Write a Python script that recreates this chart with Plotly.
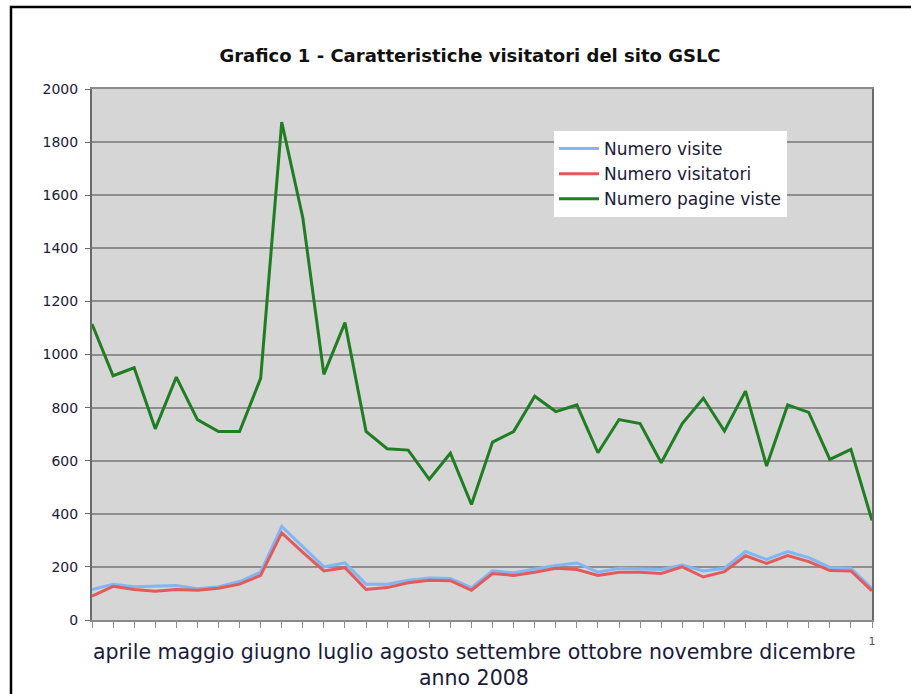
import plotly.graph_objects as go

# Data (38 weekly points, April-December 2008)
settimane = list(range(38))
numero_visite = [115, 135, 125, 127, 130, 118, 125, 145, 180, 352, 275, 200, 215, 135, 135, 150, 158, 156, 122,
                 185, 178, 192, 205, 215, 180, 195, 193, 190, 207, 185, 195, 258, 228, 258, 235, 198, 195, 118]
numero_visitatori = [90, 127, 115, 108, 115, 112, 120, 135, 168, 328, 255, 185, 197, 115, 122, 140, 150, 148, 112,
                     175, 168, 180, 195, 190, 168, 180, 180, 175, 200, 162, 182, 242, 213, 243, 220, 186, 185, 110]
numero_pagine_viste = [1115, 920, 950, 720, 915, 755, 710, 710, 910, 1875, 1515, 925, 1120, 710, 645, 640, 530, 628,
                       435, 670, 710, 843, 785, 810, 630, 755, 740, 592, 740, 835, 712, 862, 580, 810, 782, 605, 643, 375]
tick_text = [""] * 37 + ["1"]
y_ticks = [0, 200, 400, 600, 800, 1000, 1200, 1400, 1600, 1800, 2000]

FONT = "DejaVu Sans"
TXT = "#1a1a3a"

fig = go.Figure()
fig.add_trace(go.Scatter(x=settimane, y=numero_visite, mode="lines", name="Numero visite",
                         line=dict(color="#80b6f4", width=3), legendgroup="a"))
fig.add_trace(go.Scatter(x=settimane, y=numero_visitatori, mode="lines", name="Numero visitatori",
                         line=dict(color="#e25a5a", width=3), legendgroup="b"))
fig.add_trace(go.Scatter(x=settimane, y=numero_pagine_viste, mode="lines", name="Numero pagine viste",
                         line=dict(color="#1f7d22", width=3), legendgroup="c"))

L, R, T, B = 92, 872, 89, 620
W, H = 911, 694

def px(x):
    return (x - L) / (R - L)

def py(y):
    return (B - y) / (B - T)

fig.update_layout(
    width=W, height=H,
    margin=dict(l=L, r=W - R, t=T, b=H - B),
    paper_bgcolor="white",
    plot_bgcolor="#d6d6d6",
    font=dict(family=FONT, color=TXT),
    title=dict(text="<b>Grafico 1 - Caratteristiche visitatori del sito GSLC</b>",
               x=px(470), xref="paper", xanchor="center",
               y=1 - 56 / H, yref="container", yanchor="middle",
               font=dict(family=FONT, size=18, color="#111111")),
    showlegend=True,
    legend=dict(x=px(554), y=py(131), xanchor="left", yanchor="top",
                bgcolor="white", borderwidth=0,
                font=dict(family=FONT, size=17, color=TXT),
                tracegroupgap=0, itemwidth=40),
    xaxis=dict(range=[0, 37], tickvals=settimane, ticktext=tick_text,
               ticks="outside", ticklen=6, tickcolor="#8a8a8a", tickwidth=1,
               tickfont=dict(size=11, color="#5a4a8a"), ticklabelstandoff=4,
               showgrid=False, zeroline=False,
               showline=True, linecolor="#8a8a8a", linewidth=1.5, mirror=True,
               fixedrange=True),
    yaxis=dict(range=[0, 2000], tickvals=y_ticks, ticks="outside", ticklen=5,
               tickcolor="#6a6a6a", tickfont=dict(size=14, color=TXT), ticklabelstandoff=4,
               showgrid=True, gridcolor="#8e8e8e", gridwidth=1.5,
               zeroline=False, showline=True, linecolor="#6a6a6a", linewidth=2,
               mirror=True, fixedrange=True),
    annotations=[
        dict(text="aprile maggio giugno luglio agosto settembre ottobre novembre dicembre",
             x=px(474), y=py(652), xref="paper", yref="paper", xanchor="center", yanchor="middle",
             showarrow=False, font=dict(family=FONT, size=20.5, color=TXT)),
        dict(text="anno 2008",
             x=px(474), y=py(678), xref="paper", yref="paper", xanchor="center", yanchor="middle",
             showarrow=False, font=dict(family=FONT, size=20.5, color=TXT)),
    ],
    shapes=[
        dict(type="path", xref="paper", yref="paper",
             path=f"M {px(11)},{py(H + 10)} L {px(11)},{py(7)} L {px(W + 10)},{py(7)}",
             line=dict(color="black", width=2.5)),
    ],
)

fig.write_html("out.html",
               config={"displayModeBar": False},
               post_script="document.body.style.margin='0';document.body.style.overflow='hidden';")
